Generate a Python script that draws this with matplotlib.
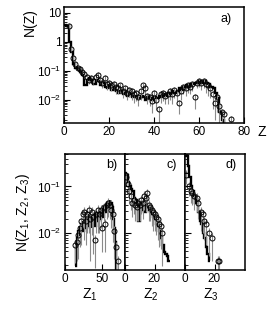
import numpy as np
import matplotlib
matplotlib.use("Agg")
import matplotlib.pyplot as plt
from matplotlib.ticker import FixedLocator, FixedFormatter, LogLocator, NullFormatter

plt.rcParams['font.family'] = ['Liberation Sans', 'DejaVu Sans']
plt.rcParams['mathtext.fontset'] = 'custom'
plt.rcParams['mathtext.rm'] = 'Liberation Sans'
plt.rcParams['mathtext.it'] = 'Liberation Sans'
plt.rcParams['mathtext.default'] = 'regular'

# ---- data (log10 of N) ----
# panel a: N(Z)
a_hist_log = [0.6, 0.55, 0.0, -0.35, -0.75, -0.9, -0.95, -1.05, -1.15, -1.5,
              -1.3, -1.25, -1.3, -1.45, -1.3, -1.35, -1.5, -1.4, -1.55, -1.6,
              -1.5, -1.65, -1.6, -1.7, -1.75, -1.7, -1.8, -1.75, -1.85, -1.8,
              -1.9, -1.85, -1.9, -1.95, -1.85, -1.9, -2.0, -1.9, -1.95, -2.0,
              -1.9, -1.95, -1.85, -1.9, -1.8, -1.85, -1.75, -1.8, -1.7, -1.75,
              -1.7, -1.6, -1.65, -1.55, -1.5, -1.55, -1.45, -1.45, -1.4, -1.4,
              -1.35, -1.4, -1.35, -1.4, -1.45, -1.55, -1.6, -1.75, -1.95, -2.4,
              -2.7, -3.5]
a_z = [2, 3, 4, 5, 6, 7, 8, 9, 10, 11, 12, 13, 14, 15, 16, 17, 18, 19, 20,
       21, 22, 23, 24, 25, 26, 27, 28, 29, 30, 31, 32, 33, 34, 35, 36, 37, 38,
       39, 40, 41, 42, 43, 44, 45, 46, 47, 48, 49, 50, 51, 52, 53, 54, 55, 56,
       57, 58, 59, 60, 61, 62, 63, 64, 65, 66, 67, 68, 69, 70, 71, 74]
a_pts_log = [0.55, -0.25, -0.55, -0.75, -0.9, -0.95, -1.05, -1.1, -1.2, -1.3,
             -1.25, -1.35, -1.2, -1.15, -1.3, -1.4, -1.25, -1.45, -1.4, -1.5,
             -1.45, -1.55, -1.6, -1.5, -1.7, -1.6, -1.75, -1.65, -1.7, -1.8,
             -1.75, -1.9, -1.7, -1.5, -1.6, -1.85, -1.9, -2.05, -1.75, -2.0,
             -2.3, -1.8, -1.75, -1.85, -1.8, -1.7, -1.8, -1.65, -1.75, -2.1,
             -1.7, -1.55, -1.6, -1.5, -1.55, -1.45, -1.9, -1.4, -1.35, -1.4,
             -1.35, -1.45, -1.5, -1.6, -1.8, -2.1, -1.9, -2.2, -2.4, -2.5,
             -2.65]
a_err_dn = [0.1, 0.1, 0.1, 0.1, 0.1, 0.1, 0.1, 0.15, 0.15, 0.15,
            0.15, 0.15, 0.15, 0.2, 0.15, 0.2, 0.15, 0.2, 0.2, 0.2,
            0.2, 0.25, 0.2, 0.25, 0.25, 0.25, 0.25, 0.25, 0.3, 0.3,
            0.3, 0.3, 0.3, 0.25, 0.35, 0.3, 0.3, 0.4, 0.3, 0.35,
            0.6, 0.3, 0.3, 0.3, 0.35, 0.3, 0.35, 0.3, 0.3, 0.4,
            0.3, 0.25, 0.25, 0.25, 0.25, 0.25, 0.4, 0.2, 0.2, 0.25,
            0.25, 0.3, 0.35, 0.35, 0.5, 0.6, 0.5, 0.6, 0.8, 0.8,
            0.5]

# panel b: Z1
b_hist_start = 14
b_hist_log = [-2.7, -2.3, -2.15, -2.1, -1.95, -2.05, -1.85, -1.95, -1.8, -1.9,
              -1.75, -1.95, -1.7, -1.85, -1.65, -1.9, -1.7, -1.8, -1.6, -1.85,
              -1.75, -1.65, -1.9, -1.7, -1.8, -1.6, -1.75, -1.85, -1.65, -1.7,
              -1.55, -1.75, -1.6, -1.7, -1.55, -1.6, -1.5, -1.65, -1.5, -1.45,
              -1.55, -1.4, -1.45, -1.35, -1.4, -1.35, -1.3, -1.4, -1.35, -1.45,
              -1.55, -1.7, -1.9, -2.2, -2.5, -2.8]
b_z = [14, 16, 18, 20, 22, 24, 26, 28, 30, 32, 34, 36, 38, 40, 42, 44, 46,
       48, 50, 52, 54, 56, 58, 60, 62, 64, 66, 68, 71]
b_pts_log = [-2.25, -2.2, -2.05, -1.9, -1.75, -1.6, -1.55, -1.75, -1.6, -1.5,
             -1.7, -1.55, -1.65, -2.15, -1.6, -1.5, -1.6, -1.5, -1.9, -1.45,
             -1.8, -1.4, -1.35, -1.4, -1.5, -1.6, -1.95, -2.3, -2.6]
b_err_dn = [0.4, 0.4, 0.5, 0.4, 0.5, 0.3, 0.6, 0.5, 0.4, 0.5,
            0.9, 0.5, 0.8, 0.6, 0.4, 0.5, 0.4, 0.4, 0.5, 0.3,
            0.6, 0.3, 0.3, 0.3, 0.4, 0.6, 0.6, 0.5, 0.3]

# panel c: Z2
c_hist_log = [-0.7, -0.75, -0.9, -1.0, -1.05, -1.1, -1.25, -1.3, -1.35, -1.75,
              -1.4, -1.5, -1.45, -1.55, -1.4, -1.45, -1.5, -1.55, -1.6, -1.65,
              -1.7, -1.8, -1.85, -1.95, -2.1, -2.25, -2.4, -2.45, -2.5, -2.6]
c_z = [1, 2, 3, 4, 5, 6, 7, 8, 9, 10, 11, 12, 13, 14, 15, 16, 17, 18, 19, 20,
       21, 22, 23, 24, 25]
c_pts_log = [-0.8, -0.95, -1.1, -1.2, -1.35, -1.3, -1.4, -1.45, -1.35, -1.4,
             -1.3, -1.35, -1.2, -1.25, -1.15, -1.4, -1.45, -1.5, -1.55, -1.6,
             -1.65, -1.7, -1.8, -1.85, -2.0]
c_err_dn = [0.2, 0.2, 0.25, 0.3, 0.3, 0.3, 0.35, 0.3, 0.4, 0.35,
            0.3, 0.35, 0.3, 0.3, 0.3, 0.35, 0.3, 0.35, 0.4, 0.35,
            0.4, 0.45, 0.5, 0.5, 0.7]

# panel d: Z3
d_hist_log = [-0.35, -0.35, -0.55, -0.8, -1.0, -1.1, -1.2, -1.35, -1.3, -1.55,
              -1.75, -1.8, -2.0, -2.1, -2.3, -2.45, -2.6]
d_z = [1, 3, 4, 5, 6, 8, 9, 11, 12, 13, 14, 16, 18, 22, 23]
d_pts_log = [-0.75, -1.0, -1.1, -1.15, -1.2, -1.25, -1.35, -1.55, -1.6,
             -1.75, -1.8, -2.0, -2.1, -2.6, -2.6]
d_err_dn = [0.2, 0.2, 0.25, 0.25, 0.3, 0.3, 0.35, 0.4, 0.4,
            0.4, 0.45, 0.5, 0.5, 0.6, 0.6]

W, H = 277, 313
fig = plt.figure(figsize=(W / 100, H / 100), dpi=100)


def px_axes(left, top, right, bottom):
    return fig.add_axes([left / W, 1 - bottom / H, (right - left) / W, (bottom - top) / H])


def style(ax):
    ax.set_yscale('log')
    ax.tick_params(which='both', direction='in', labelsize=8.5, pad=2)
    ax.tick_params(which='major', length=4, width=0.8)
    ax.tick_params(which='minor', length=2, width=0.6)
    for s in ax.spines.values():
        s.set_linewidth(1.1)


def draw(ax, edges, hist_log, z, pts_log, err_dn):
    vals = 10.0 ** np.array(hist_log)
    ax.stairs(vals, edges, color='black', lw=1.7, baseline=None)
    y = 10.0 ** np.array(pts_log)
    lo = y - 10.0 ** (np.array(pts_log) - np.array(err_dn))
    up = 10.0 ** (np.array(pts_log) + 0.1) - y
    ax.errorbar(z, y, yerr=[lo, up], fmt='none', ecolor='#8a8a8a', elinewidth=0.8, zorder=1)
    ax.plot(z, y, 'o', mfc='none', mec='black', ms=3.6, mew=0.7, zorder=3)


# ---- top panel ----
ax = px_axes(64, 7, 244, 123)
style(ax)
draw(ax, np.arange(len(a_hist_log) + 1), a_hist_log, a_z, a_pts_log, a_err_dn)
ax.set_xlim(0, 80)
ax.set_ylim(1.6e-3, 16)
ax.set_xticks([0, 20, 40, 60, 80])
ax.yaxis.set_major_locator(FixedLocator([10, 1, 0.1, 0.01]))
ax.yaxis.set_major_formatter(FixedFormatter(['10', '1', '10$^{-1}$', '10$^{-2}$']))
ax.yaxis.set_minor_locator(LogLocator(base=10, subs=np.arange(2, 10)))
ax.yaxis.set_minor_formatter(NullFormatter())
ax.text(0.9, 0.87, 'a)', transform=ax.transAxes, fontsize=9, ha='center')
fig.text(30 / W, 1 - 22 / H, 'N(Z)', rotation=90, ha='center', va='center', fontsize=10)
fig.text(262 / W, 1 - 132 / H, 'Z', ha='center', va='center', fontsize=10)

# ---- bottom panels ----
panels = [
    (64.5, 124.5, np.arange(b_hist_start, b_hist_start + len(b_hist_log) + 1), b_hist_log,
     b_z, b_pts_log, b_err_dn, (0, 80), [0, 50], 'b)', 'Z$_1$', 90),
    (124.5, 184.5, np.arange(len(c_hist_log) + 1), c_hist_log,
     c_z, c_pts_log, c_err_dn, (0, 40), [0, 20], 'c)', 'Z$_2$', 151),
    (184.5, 244.5, np.arange(len(d_hist_log) + 1), d_hist_log,
     d_z, d_pts_log, d_err_dn, (0, 40), [0, 20], 'd)', 'Z$_3$', 211),
]
for i, (l, r, edges, hl, z, pl, ed, xl, xt, tag, lab, lx) in enumerate(panels):
    ax = px_axes(l, 154, r, 270)
    style(ax)
    draw(ax, edges, hl, z, pl, ed)
    ax.set_xlim(*xl)
    ax.set_ylim(1.6e-3, 0.5)
    ax.set_xticks(xt)
    ax.yaxis.set_major_locator(FixedLocator([0.1, 0.01]))
    if i == 0:
        ax.yaxis.set_major_formatter(FixedFormatter(['10$^{-1}$', '10$^{-2}$']))
    else:
        ax.yaxis.set_major_formatter(NullFormatter())
    ax.yaxis.set_minor_locator(LogLocator(base=10, subs=np.arange(2, 10)))
    ax.yaxis.set_minor_formatter(NullFormatter())
    ax.text(0.78, 0.88, tag, transform=ax.transAxes, fontsize=9, ha='center')
    fig.text(lx / W, 1 - 295 / H, lab, ha='center', va='center', fontsize=10)

fig.text(23 / W, 1 - 212 / H, 'N(Z$_1$, Z$_2$, Z$_3$)', rotation=90, ha='center',
         va='center', fontsize=10)

fig.savefig('out.png', dpi=100)
